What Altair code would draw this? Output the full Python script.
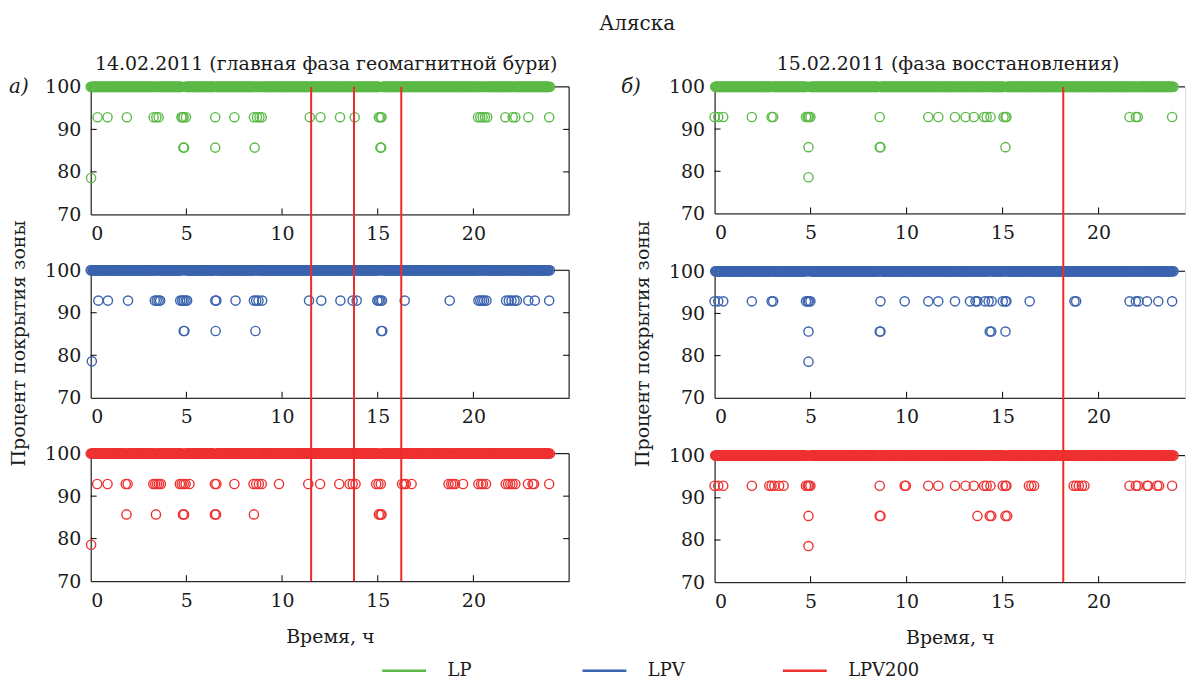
import altair as alt
import numpy as np
import pandas as pd

FONT = "DejaVu Serif"
TXT = "#1a1a1a"
SERIES = ["LP", "LPV", "LPV200"]
COLORS = ["#5cb947", "#3b63ae", "#ee3131"]
RED_LINE = "#ee2a2a"

X_TICKS = [0, 5, 10, 15, 20]
Y_TICKS = [70, 80, 90, 100]
Y_INNER = [80, 90]

# zone-coverage levels (13/14, 12/14, 11/14 of the zone)
V93, V86, V79 = 92.86, 85.71, 78.57
STEP_H = 2 / 60  # sampling step, hours

# ---- 14.02.2011 (times, hours) ----
d1_end = 24.0
d1_lp_93 = [0.36, 0.88, 1.89, 3.29, 3.43, 3.55, 4.74, 4.80, 4.86, 4.98, 6.51, 7.51, 8.53, 8.69, 8.82, 8.94,
            11.45, 12.01, 13.03, 13.80, 15.06, 15.14, 15.20, 20.24, 20.36, 20.48, 20.60, 20.72, 21.67, 22.05,
            22.19, 22.87, 23.96]
d1_lp_86 = [4.84, 4.88, 6.51, 8.57, 15.14, 15.18]
d1_lp_79 = [0.02]
d1_lpv_93 = [0.40, 0.90, 1.95, 3.35, 3.45, 3.55, 3.63, 4.68, 4.78, 4.86, 4.96, 5.04, 6.51, 6.57, 7.57, 8.53,
             8.65, 8.77, 8.96, 11.41, 12.05, 13.05, 13.69, 13.90, 14.98, 15.06, 15.14, 15.22, 16.41, 18.76,
             20.26, 20.36, 20.46, 20.56, 20.68, 21.71, 21.85, 21.99, 22.15, 22.27, 22.87, 23.21, 23.96]
d1_lpv_86 = [4.86, 4.90, 6.53, 8.61, 15.18, 15.24]
d1_lpv_79 = [0.06]
d1_lpv200_93 = [0.34, 0.88, 1.83, 1.93, 3.27, 3.37, 3.47, 3.57, 3.67, 4.66, 4.76, 4.86, 4.96, 5.16, 6.49, 6.57,
                7.51, 8.51, 8.65, 8.79, 8.94, 9.84, 11.37, 11.99, 12.99, 13.53, 13.69, 13.84, 14.92, 15.04,
                15.16, 16.27, 16.39, 16.47, 16.77, 18.70, 18.84, 18.94, 19.04, 19.46, 20.26, 20.40, 20.50,
                20.66, 21.69, 21.81, 21.93, 22.05, 22.19, 22.85, 23.09, 23.17, 23.96]
d1_lpv200_86 = [1.87, 3.41, 4.82, 4.88, 6.49, 6.55, 8.53, 15.06, 15.14, 15.20]
d1_lpv200_79 = [0.02]
d1_red = [11.52, 13.76, 16.23]

# ---- 15.02.2011 ----
d2_end = 23.9
d2_lp_93 = [0.0, 0.19, 0.45, 1.94, 2.97, 3.05, 4.76, 4.85, 4.91, 4.99, 8.60, 11.13, 11.65, 12.52, 13.07, 13.50,
            14.04, 14.17, 14.37, 15.05, 15.15, 15.20, 21.61, 21.94, 22.04, 23.83]
d2_lp_86 = [4.89, 8.60, 8.64, 15.15]
d2_lp_79 = [4.89]
d2_lpv_93 = [0.0, 0.19, 0.45, 1.94, 2.97, 3.05, 4.76, 4.85, 4.91, 4.99, 8.64, 9.90, 11.13, 11.65, 12.52, 13.30,
             13.59, 13.69, 14.08, 14.27, 14.43, 15.01, 15.15, 15.20, 16.41, 18.74, 18.83, 21.61, 21.94, 22.08,
             22.52, 23.11, 23.83]
d2_lpv_86 = [4.89, 8.60, 8.64, 14.33, 14.41, 15.15]
d2_lpv_79 = [4.89]
d2_lpv200_93 = [0.0, 0.19, 0.45, 1.94, 2.85, 2.97, 3.11, 3.36, 3.59, 4.76, 4.85, 4.91, 4.99, 8.60, 9.90, 9.96,
                11.13, 11.65, 12.52, 13.07, 13.50, 14.04, 14.17, 14.37, 15.01, 15.15, 15.20, 16.37, 16.50,
                16.64, 18.70, 18.83, 18.97, 19.13, 19.26, 21.61, 21.94, 22.04, 22.52, 22.58, 23.05, 23.15, 23.83]
d2_lpv200_86 = [4.89, 8.60, 8.64, 13.69, 14.33, 14.41, 15.15, 15.24]
d2_lpv200_79 = [4.89]
d2_red = [18.16]


def make_df(series, end, t93, t86, t79):
    grid = list(np.arange(0, end + 1e-9, STEP_H))
    for t in t93 + t86 + t79:  # drop the sample replaced by an exception
        if grid:
            i = int(np.argmin([abs(g - t) for g in grid]))
            grid.pop(i)
    rows = [(g, 100.0) for g in grid]
    rows += [(t, V93) for t in t93] + [(t, V86) for t in t86] + [(t, V79) for t in t79]
    df = pd.DataFrame(rows, columns=["t", "v"])
    df["series"] = series
    return df


LEGEND = alt.Legend(orient="none", legendX=291, legendY=562, direction="horizontal", title=None,
                    symbolType="stroke", symbolSize=1936, symbolStrokeWidth=2.5, labelFont=FONT,
                    labelFontSize=18, labelColor=TXT, labelOffset=20, columnPadding=58, gridAlign="all",
                    columns=3)


def subplot(df, W, H, xmax, red, ext_top, xtitle=False, ytitle=False, right_frame=True, tag=None, tag_x=-72):
    xs = alt.Scale(domain=[0, xmax], nice=False, zero=False)
    ys = alt.Scale(domain=[70, 100], nice=False, zero=False)
    xaxis = alt.Axis(values=X_TICKS, grid=False, ticks=False, labelFont=FONT, labelFontSize=19,
                     labelColor=TXT, labelPadding=10, domainColor="black", domainWidth=1,
                     title="Время, ч" if xtitle else None, titleFont=FONT, titleFontSize=19,
                     titleFontWeight="normal", titleColor=TXT, titlePadding=18)
    yaxis_kw = dict(values=Y_TICKS, grid=False, ticks=False, labelFont=FONT, labelFontSize=19,
                    labelColor=TXT, labelPadding=10, domainColor="black", domainWidth=1,
                    titleFont=FONT, titleFontSize=19, titleFontWeight="normal", titleColor=TXT,
                    titlePadding=16)
    if ytitle:
        yaxis = alt.Axis(title="Процент покрытия зоны", titleY=H / 2 + 9, **yaxis_kw)
    else:
        yaxis = alt.Axis(title=None, **yaxis_kw)

    def X(f):
        return alt.X(f, scale=xs, axis=xaxis)

    def Y(f):
        return alt.Y(f, scale=ys, axis=yaxis)

    top_line = alt.Chart(pd.DataFrame({"v": [100]})).mark_rule(color="black", strokeWidth=1).encode(
        y=Y("v:Q"), x=alt.value(0), x2=alt.value(W))
    lt = alt.Chart(pd.DataFrame({"v": Y_INNER})).mark_rule(color="black", strokeWidth=1).encode(
        y=Y("v:Q"), x=alt.value(0), x2=alt.value(6))
    bt = alt.Chart(pd.DataFrame({"t": X_TICKS[1:]})).mark_rule(color="black", strokeWidth=1).encode(
        x=X("t:Q"), y=alt.value(H - 6), y2=alt.value(H))
    layers = [top_line, lt, bt]
    if right_frame:
        rf = alt.Chart(pd.DataFrame({"t": [xmax]})).mark_rule(color="black", strokeWidth=1).encode(
            x=X("t:Q"), y=alt.value(0), y2=alt.value(H))
        rt = alt.Chart(pd.DataFrame({"v": Y_INNER})).mark_rule(color="black", strokeWidth=1).encode(
            y=Y("v:Q"), x=alt.value(W - 6), x2=alt.value(W))
        layers += [rf, rt]

    pts = alt.Chart(df).mark_point(filled=False, size=85, strokeWidth=1.4, opacity=1).encode(
        x=X("t:Q"),
        y=Y("v:Q"),
        color=alt.Color("series:N", scale=alt.Scale(domain=SERIES, range=COLORS), legend=LEGEND),
    )
    reds = alt.Chart(pd.DataFrame({"t": red})).mark_rule(color=RED_LINE, strokeWidth=2).encode(
        x=X("t:Q"), y=alt.value(ext_top), y2=alt.value(H))
    layers = layers + [pts, reds]
    if tag:
        tg = alt.Chart(pd.DataFrame({"s": [tag]})).mark_text(
            font=FONT, fontSize=20, fontStyle="italic", color=TXT, align="center", baseline="middle").encode(
            text="s:N", x=alt.value(tag_x), y=alt.value(0))
        layers.append(tg)
    return alt.layer(*layers).properties(width=W, height=H)


LW, LH, LSP, LX = 480, 128, 56, 25.0
RW, RH, RSP, RX = 472, 127, 58, 24.5

left = alt.vconcat(
    subplot(make_df("LP", d1_end, d1_lp_93, d1_lp_86, d1_lp_79), LW, LH, LX, d1_red, 0, tag="а)", tag_x=-72),
    subplot(make_df("LPV", d1_end, d1_lpv_93, d1_lpv_86, d1_lpv_79), LW, LH, LX, d1_red, -LSP, ytitle=True),
    subplot(make_df("LPV200", d1_end, d1_lpv200_93, d1_lpv200_86, d1_lpv200_79), LW, LH, LX, d1_red, -LSP,
            xtitle=True),
    spacing=LSP, bounds="flush",
).properties(title=alt.TitleParams("14.02.2011 (главная фаза геомагнитной бури)", font=FONT, fontSize=19,
                                   fontWeight="normal", color=TXT, offset=2, anchor="middle", dx=37))

right = alt.vconcat(
    subplot(make_df("LP", d2_end, d2_lp_93, d2_lp_86, d2_lp_79), RW, RH, RX, d2_red, 0, right_frame=False,
            tag="б)", tag_x=-84),
    subplot(make_df("LPV", d2_end, d2_lpv_93, d2_lpv_86, d2_lpv_79), RW, RH, RX, d2_red, -RSP, ytitle=True,
            right_frame=False),
    subplot(make_df("LPV200", d2_end, d2_lpv200_93, d2_lpv200_86, d2_lpv200_79), RW, RH, RX, d2_red, -RSP,
            xtitle=True, right_frame=False),
    spacing=RSP, bounds="flush",
).properties(title=alt.TitleParams("15.02.2011  (фаза восстановления)", font=FONT, fontSize=19,
                                   fontWeight="normal", color=TXT, offset=2, anchor="middle", dx=45))

chart = alt.hconcat(left, right, spacing=50).properties(
    title=alt.TitleParams("Аляска", font=FONT, fontSize=20, fontWeight="normal", color=TXT, dx=40, offset=22,
                          anchor="middle"),
    padding={"left": 8, "top": 12, "right": 0, "bottom": 0},
).configure_view(stroke="transparent").configure(background="white")

chart.save("out.html", embed_options={"renderer": "svg", "actions": False})
